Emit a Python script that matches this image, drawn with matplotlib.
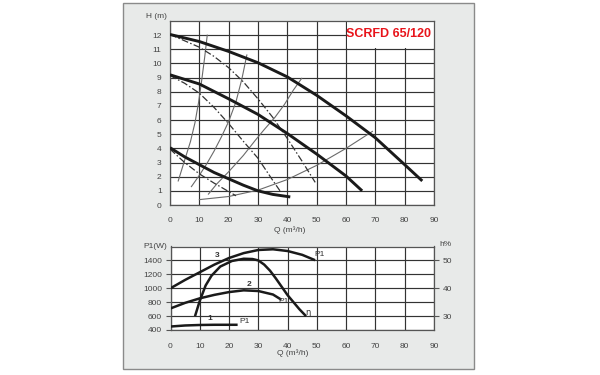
import matplotlib
matplotlib.use("Agg")
import matplotlib.pyplot as plt
from matplotlib.patches import Rectangle

# ---------------- data ----------------
title_text = "SCRFD 65/120"

# H-Q pump curves (speeds 3, 2, 1)
q_s3 = [0, 10, 20, 30, 40, 50, 60, 70, 80, 86]
h_s3 = [12.05, 11.55, 10.85, 10.05, 9.05, 7.75, 6.3, 4.75, 2.85, 1.7]
q_s2 = [0, 10, 20, 30, 40, 50, 60, 65.5]
h_s2 = [9.2, 8.55, 7.5, 6.4, 5.05, 3.6, 2.05, 1.0]
q_s1 = [0, 5, 10, 15, 20, 25, 30, 35, 41]
h_s1 = [4.05, 3.4, 2.85, 2.3, 1.85, 1.4, 1.0, 0.75, 0.57]

# dash-dot curves
q_d3 = [0, 5, 10, 15, 20, 25, 30, 35, 40, 45, 49.5]
h_d3 = [12.05, 11.6, 11.15, 10.5, 9.7, 8.7, 7.5, 6.2, 4.7, 3.1, 1.6]
q_d2 = [0, 5, 10, 15, 20, 25, 30, 35, 37.5]
h_d2 = [9.15, 8.6, 7.9, 6.9, 5.75, 4.5, 3.3, 1.75, 1.0]
q_d1 = [0, 5, 10, 15, 20, 22.5]
h_d1 = [3.95, 3.0, 2.2, 1.55, 0.95, 0.65]

# thin curves
q_ta = [2.8, 4, 5.5, 7, 8.5, 9.7, 10.8, 11.8, 12.7]
h_ta = [1.7, 2.5, 3.5, 4.5, 5.8, 7.2, 8.8, 10.4, 12.0]
q_tb = [7.3, 10, 12.5, 15, 17.5, 20, 22.5, 24.5, 26.2]
h_tb = [1.3, 2.1, 2.9, 3.8, 4.8, 5.9, 7.3, 8.9, 10.6]
q_tc = [13.1, 16, 20, 25, 29, 32, 35.8, 39, 42, 44.9]
h_tc = [0.77, 1.5, 2.35, 3.5, 4.55, 5.3, 6.2, 7.1, 8.1, 8.95]
q_td = [10, 20, 30, 40, 50, 60, 69]
h_td = [0.38, 0.6, 1.05, 1.8, 2.8, 4.0, 5.2]

# P1-Q curves
q_p3 = [0, 5, 10, 15, 20, 25, 30, 35, 40, 45, 49]
p_p3 = [1000, 1120, 1230, 1340, 1435, 1505, 1550, 1560, 1535, 1480, 1410]
q_p2 = [0, 5, 10, 15, 20, 25, 30, 35, 37.5]
p_p2 = [710, 790, 855, 905, 945, 970, 960, 910, 845]
q_p1 = [0, 5, 10, 15, 20, 22.5]
p_p1 = [450, 465, 472, 475, 475, 475]

# efficiency curve (right axis, %)
q_eta = [8.5, 10, 12, 14, 17, 21, 25, 28, 30, 32, 34, 36, 38, 40, 42, 44, 46]
eta = [30.4, 35.5, 41, 44.5, 47.8, 49.8, 50.6, 50.5, 50.0, 48.5, 46.3, 43.5, 40.5, 37.5, 35, 32.5, 30.3]

x_ticks = [0, 10, 20, 30, 40, 50, 60, 70, 80, 90]
h_ticks = [0, 1, 2, 3, 4, 5, 6, 7, 8, 9, 10, 11, 12]
p_ticks = [400, 600, 800, 1000, 1200, 1400]
eta_ticks = [30, 40, 50]

# ---------------- styling ----------------
FONT = ['Liberation Sans Narrow', 'Liberation Sans', 'DejaVu Sans']
TXT = '#444444'
GRID = '#333333'
THICK = '#1a1a1a'
THIN = '#6a6a6a'
FS = 6
plt.rcParams['font.family'] = FONT

fig = plt.figure(figsize=(6, 3.75), dpi=100)
fig.patch.set_facecolor('white')

# grey panel (behind the axes)
panel = Rectangle((123 / 600, 1 - 369 / 375), (474 - 123) / 600, (369 - 3) / 375,
                  transform=fig.transFigure, facecolor='#e8eae9', edgecolor='#8a8a8a',
                  linewidth=1.0, zorder=-10)
fig.add_artist(panel)

# ---------------- top chart ----------------
ax1 = fig.add_axes([170 / 600, 1 - 205 / 375, 264 / 600, 184 / 375])
ax1.set_facecolor('white')
ax1.set_xlim(0, 90)
ax1.set_ylim(0, 13)
ax1.set_xticks(x_ticks)
ax1.set_yticks(h_ticks)
ax1.grid(True, color=GRID, linewidth=0.85, zorder=1)
ax1.set_axisbelow(True)
ax1.tick_params(length=0, labelsize=FS, labelcolor=TXT)
ax1.tick_params(axis='x', pad=9)
ax1.tick_params(axis='y', pad=6)
for s in ax1.spines.values():
    s.set_color('#555555')
    s.set_linewidth(0.9)

ax1.add_patch(Rectangle((60.25, 11.06), 29.75, 1.94, facecolor='white', edgecolor='none', zorder=2))
ax1.text(74.5, 12.05, title_text, color='#e8141b', fontsize=9, fontweight='bold',
         ha='center', va='center', zorder=3, family=FONT)

for q, h in [(q_ta, h_ta), (q_tb, h_tb), (q_tc, h_tc), (q_td, h_td)]:
    ax1.plot(q, h, color=THIN, linewidth=0.8, zorder=3)
for q, h in [(q_d3, h_d3), (q_d2, h_d2), (q_d1, h_d1)]:
    ax1.plot(q, h, color='#333333', linewidth=0.9, linestyle=(0, (5.5, 1.8, 1.2, 1.8)), zorder=3)
for q, h in [(q_s3, h_s3), (q_s2, h_s2), (q_s1, h_s1)]:
    ax1.plot(q, h, color=THICK, linewidth=2.1, zorder=4, solid_capstyle='butt')

ax1.text(-0.012, 1.022, "H (m)", transform=ax1.transAxes, ha='right', va='center',
         fontsize=FS, color=TXT)
ax1.text(0.455, -0.135, "Q (m³/h)", transform=ax1.transAxes, ha='center', va='center',
         fontsize=FS, color=TXT)

# ---------------- bottom chart ----------------
ax2 = fig.add_axes([170.5 / 600, 1 - 330 / 375, 263.5 / 600, 83.5 / 375])
ax2.set_facecolor('white')
ax2.set_xlim(0, 90)
ax2.set_ylim(400, 1600)
ax2.set_xticks(x_ticks)
ax2.set_yticks(p_ticks)
ax2.grid(True, color=GRID, linewidth=0.85, zorder=1)
ax2.set_axisbelow(True)
ax2.tick_params(axis='x', length=0, pad=9, labelsize=FS, labelcolor=TXT)
ax2.tick_params(axis='y', length=3.5, width=0.8, color='#555555', pad=2.5,
                labelsize=FS, labelcolor=TXT)
for s in ax2.spines.values():
    s.set_color('#555555')
    s.set_linewidth(0.9)

ax2.plot(q_p3, p_p3, color=THICK, linewidth=1.8, zorder=4)
ax2.plot(q_p2, p_p2, color=THICK, linewidth=1.8, zorder=4)
ax2.plot(q_p1, p_p1, color=THICK, linewidth=1.8, zorder=4)

lbl = dict(fontsize=FS, color='#333333', zorder=5)
ax2.text(15.9, 1470, "3", ha='center', va='center', fontweight='bold', **lbl)
ax2.text(26.7, 1050, "2", ha='center', va='center', fontweight='bold', **lbl)
ax2.text(13.4, 560, "1", ha='center', va='center', fontweight='bold', **lbl)
ax2.text(49.0, 1478, "P1", ha='left', va='center', **lbl)
ax2.text(37.0, 815, "P1", ha='left', va='center', **lbl)
ax2.text(23.5, 529, "P1", ha='left', va='center', **lbl)

ax3 = ax2.twinx()
ax3.set_ylim(25, 55)
ax3.set_yticks(eta_ticks)
ax3.tick_params(axis='y', length=3.5, width=0.8, color='#555555', pad=2.5,
                labelsize=FS, labelcolor=TXT)
for s in ax3.spines.values():
    s.set_visible(False)
ax3.plot(q_eta, eta, color=THICK, linewidth=1.8, zorder=4)
ax3.text(46.0, 31.4, "η", ha='left', va='center', family=['DejaVu Sans'], **lbl)

ax2.text(-0.012, 1.0, "P1(W)", transform=ax2.transAxes, ha='right', va='center',
         fontsize=FS, color=TXT)
ax2.text(1.02, 1.02, "h%", transform=ax2.transAxes, ha='left', va='center',
         fontsize=FS, color=TXT)
ax2.text(0.465, -0.28, "Q (m³/h)", transform=ax2.transAxes, ha='center', va='center',
         fontsize=FS, color=TXT)

fig.savefig("out.png", dpi=100, facecolor='white')
